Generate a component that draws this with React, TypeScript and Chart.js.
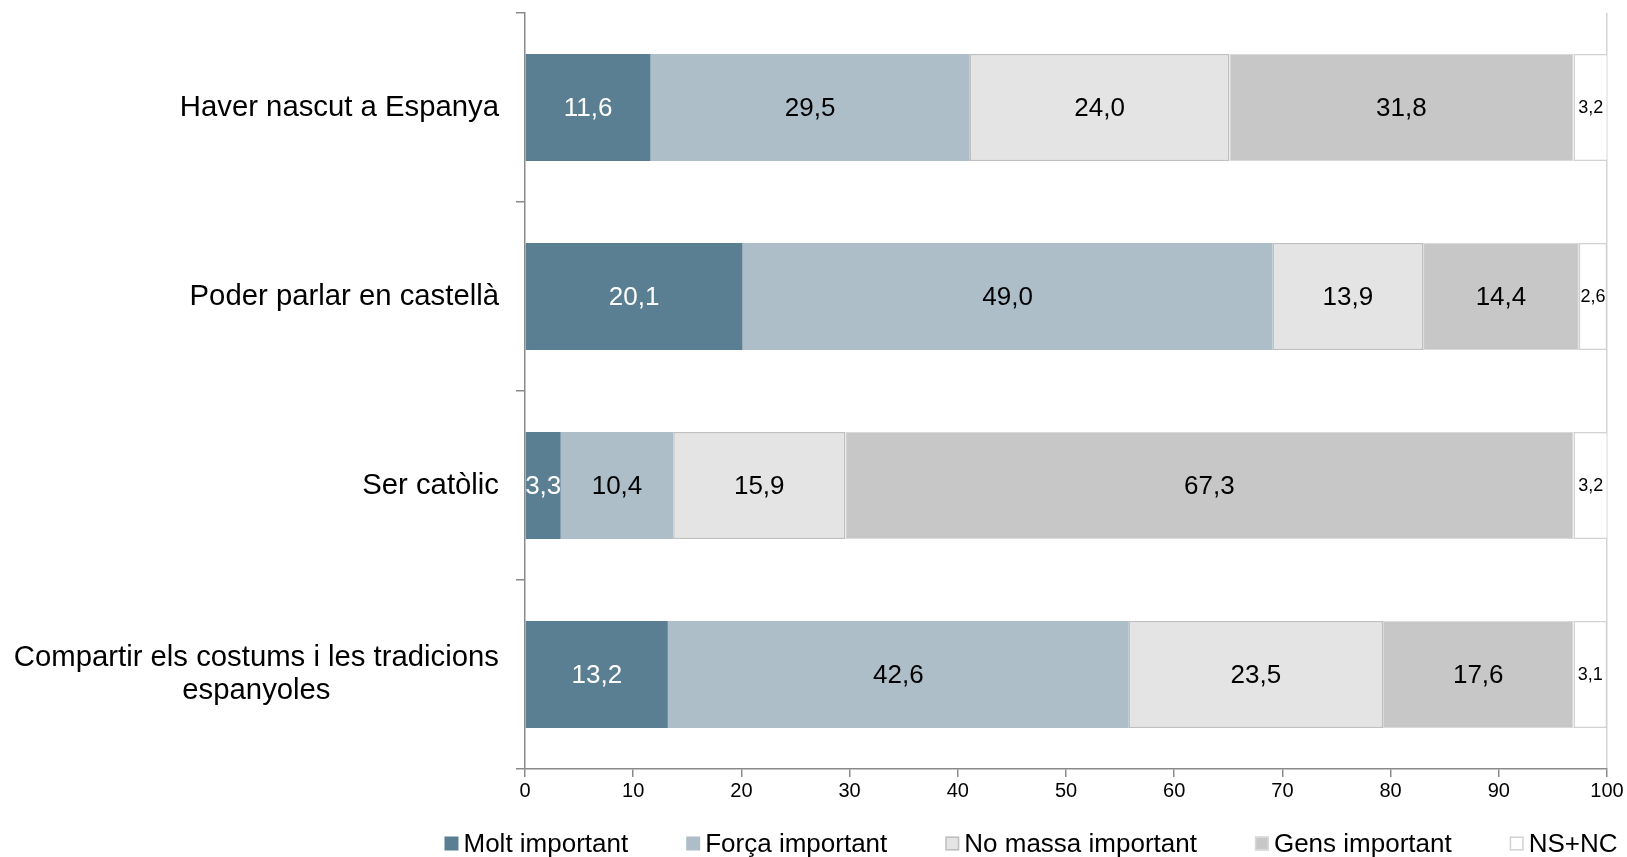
import React, { useEffect, useRef } from "react";
import { Chart, registerables } from "chart.js";

Chart.register(...registerables);

const categories: (string | string[])[] = [
  "Haver nascut a Espanya",
  "Poder parlar en castellà",
  "Ser catòlic",
  ["Compartir els costums i les tradicions", "espanyoles"],
];

const seriesNames = [
  "Molt important",
  "Força important",
  "No massa important",
  "Gens important",
  "NS+NC",
];

const moltImportant = [11.6, 20.1, 3.3, 13.2];
const forcaImportant = [29.5, 49.0, 10.4, 42.6];
const noMassaImportant = [24.0, 13.9, 15.9, 23.5];
const gensImportant = [31.8, 14.4, 67.3, 17.6];
const nsnc = [3.2, 2.6, 3.2, 3.1];

const xTicks = [0, 10, 20, 30, 40, 50, 60, 70, 80, 90, 100];

const FONT = "'Liberation Sans', Arial, sans-serif";

const fills = ["#5B7F92", "#ADBEC8", "#E3E4E3", "#C6C7C6", "#FFFFFF"];
const borders = ["#5B7F92", "#ADBEC8", "#BFBFBF", "#D9D9D9", "#D2D2D2"];
const borderWidths = [0, 0, 1.5, 1, 1.5];
const labelColors = ["#FFFFFF", "#000000", "#000000", "#000000", "#000000"];
const labelSizes = [26, 26, 26, 26, 18];

const fmt = (v: number) => v.toFixed(1).replace(".", ",");

const categoryLabelPlugin = {
  id: "categoryLabels",
  afterDraw(chart: any) {
    const ctx = chart.ctx;
    const y = chart.scales.y;
    const rightX = y.right - 26;
    ctx.save();
    ctx.font = `29.3px ${FONT}`;
    ctx.fillStyle = "#000";
    ctx.textBaseline = "middle";
    categories.forEach((lab, i) => {
      const lines = Array.isArray(lab) ? lab : [lab];
      const cy = y.getPixelForValue(i);
      const lh = 33;
      const startY = cy - ((lines.length - 1) * lh) / 2;
      if (lines.length > 1) {
        const w = Math.max(...lines.map((l) => ctx.measureText(l).width));
        ctx.textAlign = "center";
        lines.forEach((l, k) => ctx.fillText(l, rightX - w / 2, startY + k * lh));
      } else {
        ctx.textAlign = "right";
        ctx.fillText(lines[0], rightX, cy);
      }
    });
    ctx.restore();
  },
};

const dataLabelPlugin = {
  id: "dataLabels",
  afterDatasetsDraw(chart: any) {
    const ctx = chart.ctx;
    ctx.save();
    ctx.textAlign = "center";
    ctx.textBaseline = "middle";
    chart.data.datasets.forEach((ds: any, di: number) => {
      const meta = chart.getDatasetMeta(di);
      ctx.font = `${labelSizes[di]}px ${FONT}`;
      ctx.fillStyle = labelColors[di];
      meta.data.forEach((el: any, i: number) => {
        const cx = (el.x + el.base) / 2;
        ctx.fillText(fmt(ds.data[i]), cx, el.y + 1);
      });
    });
    ctx.restore();
  },
};

const legendPlugin = {
  id: "customLegend",
  afterDraw(chart: any) {
    const ctx = chart.ctx;
    ctx.save();
    ctx.font = `26px ${FONT}`;
    ctx.textBaseline = "middle";
    ctx.textAlign = "left";
    const box = 14;
    const gapBox = 5;
    const gap = 58;
    const widths = seriesNames.map((n) => box + gapBox + ctx.measureText(n).width);
    const total = widths.reduce((a, b) => a + b, 0) + gap * (seriesNames.length - 1);
    let x = 1031 - total / 2;
    const cy = 843.5;
    seriesNames.forEach((n, i) => {
      ctx.fillStyle = fills[i];
      ctx.fillRect(x, cy - box / 2, box, box);
      if (borderWidths[i] > 0) {
        ctx.strokeStyle = borders[i];
        ctx.lineWidth = 1.5;
        ctx.strokeRect(x + 0.75, cy - box / 2 + 0.75, box - 1.5, box - 1.5);
      }
      ctx.fillStyle = "#000";
      ctx.fillText(n, x + box + gapBox, cy + 1);
      x += widths[i] + gap;
    });
    ctx.restore();
  },
};

export default function App() {
  const ref = useRef<HTMLCanvasElement | null>(null);
  useEffect(() => {
    if (!ref.current) return;
    const values = [moltImportant, forcaImportant, noMassaImportant, gensImportant, nsnc];
    const chart = new Chart(ref.current, {
      type: "bar",
      data: {
        labels: categories as any,
        datasets: values.map((d, i) => ({
          label: seriesNames[i],
          data: d,
          backgroundColor: fills[i],
          borderColor: borders[i],
          borderWidth: borderWidths[i],
          borderSkipped: false,
          barPercentage: 1,
          categoryPercentage: 0.566,
        })),
      },
      options: {
        indexAxis: "y",
        animation: false,
        responsive: true,
        maintainAspectRatio: false,
        layout: { padding: { top: 13, right: 20, bottom: 48, left: 0 } },
        plugins: {
          legend: { display: false },
          tooltip: { enabled: false },
        },
        scales: {
          x: {
            stacked: true,
            min: 0,
            max: 100,
            afterBuildTicks: (s: any) => {
              s.ticks = xTicks.map((v) => ({ value: v }));
            },
            afterFit: (s: any) => {
              s.height = 40;
            },
            ticks: {
              font: { family: FONT, size: 20 },
              color: "#000",
              padding: 2,
            },
            grid: {
              color: (c: any) => (c.tick && c.tick.value === 100 ? "#D4D4D4" : "rgba(0,0,0,0)"),
              lineWidth: 1.5,
              tickColor: "#8A8A8A",
              tickLength: 8,
              drawOnChartArea: true,
            },
            border: { color: "#8A8A8A", width: 1.5 },
          },
          y: {
            stacked: true,
            afterFit: (s: any) => {
              s.width = 525;
            },
            ticks: { display: false },
            grid: {
              offset: true,
              drawOnChartArea: false,
              tickColor: "#8A8A8A",
              tickLength: 9,
              lineWidth: 1.5,
            },
            border: { color: "#8A8A8A", width: 1.5 },
          },
        },
      },
      plugins: [dataLabelPlugin, categoryLabelPlugin, legendPlugin],
    });
    return () => chart.destroy();
  }, []);
  return (
    <div style={{ position: "fixed", top: 0, left: 0, width: "1627px", height: "857px", background: "#fff" }}>
      <canvas ref={ref} />
    </div>
  );
}
